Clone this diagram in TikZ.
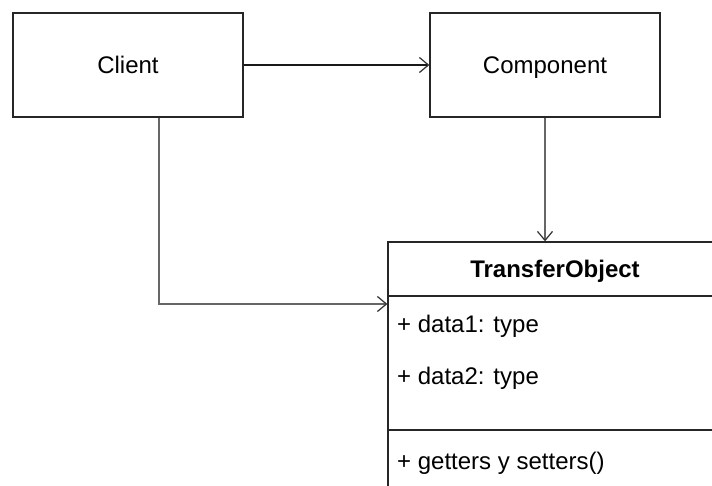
\documentclass[tikz,border=0pt]{standalone}
\usepackage{fontspec}
\setmainfont{Liberation Sans}
\usetikzlibrary{arrows.meta}
\tikzset{
	box/.style={draw=black!85,line width=1.3pt,rectangle,inner sep=0pt,text height=20pt,text depth=2pt},
	lbl/.style={inner sep=0pt,anchor=west},
	assoc/.style={draw=black!60,line width=1.1pt,-{Straight Barb[length=9pt,width=15pt,color=black!80,line width=1.2pt]}}
}
\begin{document}
\begin{tikzpicture}[x=1pt,y=-1pt,font=\fontsize{24}{28}\selectfont]
		\useasboundingbox (0,0) rectangle (712,486);
		\clip (0,0) rectangle (712,486);
		\node[box,minimum width=230pt,minimum height=104pt] (client) at (128,65) {Client};
		\node[box,minimum width=230pt,minimum height=104pt] (comp) at (545,65) {Component};
		\node[box,minimum width=334pt,minimum height=54pt,font=\fontsize{24}{28}\selectfont\bfseries] (tohead) at (555,269) {TransferObject};
		\node[box,minimum width=334pt,minimum height=134pt] (tobody) at (555,363) {};
		\node[box,minimum width=334pt,minimum height=100pt] (toops) at (555,480) {};
		\node[lbl] (attr1) at (397,326) {+ data1: type};
		\node[lbl] (attr2) at (397,378) {+ data2: type};
		\node[lbl] (meth) at (397,463) {+ getters y setters()};
		\draw [assoc,draw=black!90] (client.east) -- (comp.west);
		\draw [assoc] ([xshift=31pt]client.south) |- ([yshift=59pt]tobody.west);
		\draw [assoc] (comp.south) -- (comp.south |- tohead.north);
\end{tikzpicture}
\end{document}
